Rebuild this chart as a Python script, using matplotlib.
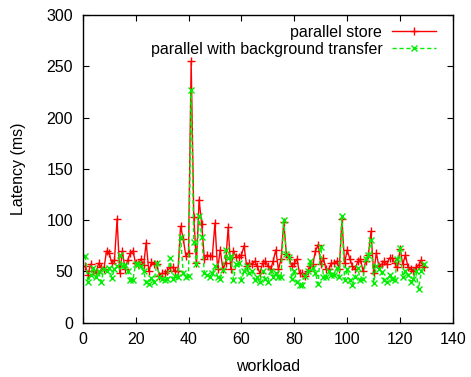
import numpy as np
import matplotlib
matplotlib.use('Agg')
import matplotlib.pyplot as plt

plt.rcParams['font.family'] = ['Liberation Sans', 'DejaVu Sans']

# latency per workload
parallel_store = [
    55, 47, 57, 50, 48, 58, 54, 52, 70, 68,
    58, 61, 101, 48, 70, 52, 61, 68, 70, 58,
    57, 62, 56, 78, 50, 59, 57, 57, 46, 48,
    48, 50, 54, 54, 50, 50, 94, 82, 65, 68,
    255, 103, 58, 120, 96, 62, 66, 65, 65, 97,
    52, 71, 52, 58, 93, 52, 70, 64, 64, 66,
    75, 55, 58, 57, 60, 55, 48, 58, 60, 55,
    52, 60, 71, 52, 62, 98, 67, 64, 55, 58,
    62, 48, 48, 46, 50, 55, 57, 70, 76, 57,
    63, 52, 52, 58, 58, 60, 52, 101, 58, 71,
    62, 55, 52, 60, 62, 50, 60, 66, 89, 48,
    68, 55, 57, 60, 57, 63, 63, 58, 54, 72,
    57, 66, 54, 52, 50, 54, 56, 61, 54,
]
background_transfer = [
    65, 40, 47, 53, 45, 50, 40, 52, 50, 53,
    44, 52, 55, 66, 55, 56, 50, 42, 42, 57,
    57, 55, 50, 40, 38, 44, 40, 58, 45, 43,
    42, 43, 63, 43, 46, 45, 84, 48, 45, 46,
    227, 79, 57, 104, 84, 48, 47, 45, 48, 55,
    45, 43, 51, 71, 63, 65, 42, 57, 58, 42,
    50, 55, 48, 50, 42, 45, 40, 50, 43, 40,
    50, 45, 48, 45, 45, 100, 67, 64, 43, 50,
    40, 37, 37, 46, 50, 60, 53, 48, 38, 74,
    45, 45, 50, 47, 47, 53, 45, 104, 42, 52,
    42, 37, 45, 53, 42, 43, 62, 66, 81, 39,
    55, 52, 49, 42, 40, 47, 43, 42, 62, 73,
    45, 50, 47, 40, 43, 50, 33, 50, 57,
]
workload = np.arange(1, len(parallel_store) + 1)

fig = plt.figure(figsize=(4.71, 3.77), dpi=100)
ax = fig.add_axes([0.1756, 0.144, 0.7862, 0.816])

ax.plot(workload, parallel_store, color='#ff0000', lw=1, marker='+', ms=6, mew=1,
        label='parallel store')
ax.plot(workload, background_transfer, color='#00ee00', lw=1, ls='--', dashes=(3, 2),
        marker='x', ms=4, mew=1, label='parallel with background transfer')

ax.set_xlim(0, 140)
ax.set_ylim(0, 300)
ax.set_xticks(range(0, 141, 20))
ax.set_yticks(range(0, 301, 50))
ax.tick_params(direction='in', top=True, right=True, length=4.5, labelsize=11.5, pad=7)
for s in ax.spines.values():
    s.set_linewidth(1.0)

ax.set_xlabel('workload', fontsize=11.5, labelpad=8)
ax.set_ylabel('Latency (ms)', fontsize=11.5, labelpad=15)

ax.legend(loc='upper right', bbox_to_anchor=(0.971, 0.99), borderaxespad=0,
          frameon=False, markerfirst=False, fontsize=11.5,
          handlelength=2.75, labelspacing=0.15, handletextpad=0.6)

fig.savefig('out.png', dpi=100)
